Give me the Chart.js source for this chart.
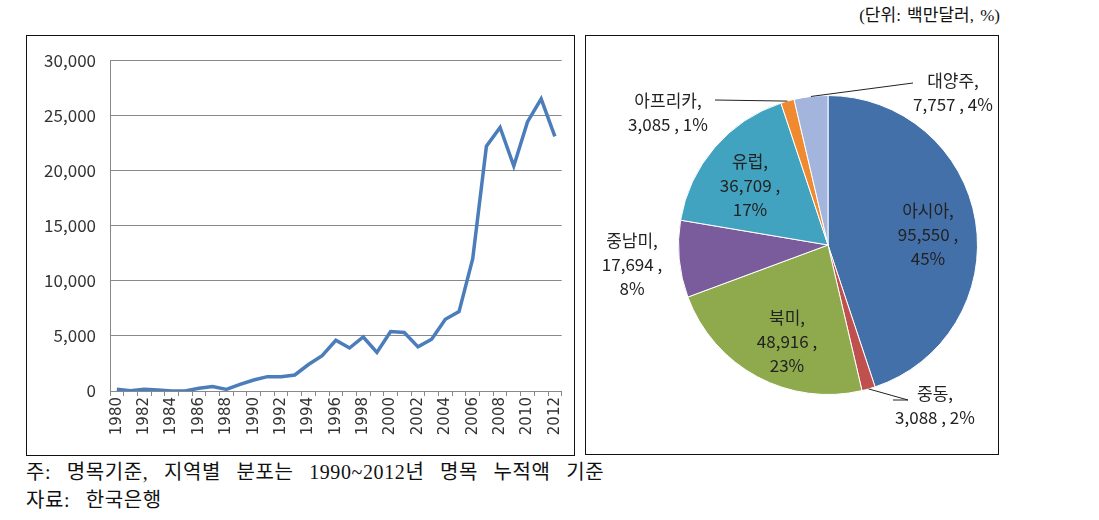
<!DOCTYPE html>
<html>
<head>
<meta charset="utf-8">
<script src="https://cdn.jsdelivr.net/npm/chart.js@4"></script>
<style>
  html, body { margin:0; padding:0; background:#fff; }
  body { width:1099px; height:520px; position:relative; overflow:hidden; font-family:"Liberation Serif","Noto Sans CJK KR",serif; }
  .panel { position:absolute; border:1px solid #111; box-sizing:border-box; background:#fff; }
  #lp { left:26px; top:35px; width:549px; height:421px; }
  #pp { left:585px; top:35px; width:414px; height:420px; }
  canvas { position:absolute; left:0; top:0; }
  .txt { position:absolute; color:#111; white-space:nowrap; line-height:1.4; }
  #unit { right:99px; top:4px; font-size:17px; word-spacing:2px; }
  #note1 { left:26px; top:458px; font-size:20px; word-spacing:10px; letter-spacing:0.6px; }
  #note2 { left:26px; top:486px; font-size:20px; word-spacing:10px; letter-spacing:0.6px; }
</style>
</head>
<body>
<div class="txt" id="unit">(단위: 백만달러, %)</div>
<div class="panel" id="lp"><canvas id="line" width="547" height="419"></canvas></div>
<div class="panel" id="pp"><canvas id="pie" width="412" height="418"></canvas></div>
<div class="txt" id="note1">주: 명목기준, 지역별 분포는 1990~2012년 명목 누적액 기준</div>
<div class="txt" id="note2">자료: 한국은행</div>
<script>
// ---- data ----
const years = ["1980","1981","1982","1983","1984","1985","1986","1987","1988","1989",
  "1990","1991","1992","1993","1994","1995","1996","1997","1998","1999",
  "2000","2001","2002","2003","2004","2005","2006","2007","2008","2009",
  "2010","2011","2012"];
const investment = [150, 30, 150, 100, 0, 0, 250, 400, 150, 600,
  1000, 1300, 1300, 1450, 2400, 3200, 4600, 3900, 4900, 3500,
  5400, 5300, 4000, 4700, 6500, 7200, 12000, 22200, 23900, 20400,
  24400, 26500, 23100];
const yTicks = [0, 5000, 10000, 15000, 20000, 25000, 30000];

const regions = ["아시아", "중동", "북미", "중남미", "유럽", "아프리카", "대양주"];
const regionValues = [95550, 3088, 48916, 17694, 36709, 3085, 7757];
const regionPct = ["45%", "2%", "23%", "8%", "17%", "1%", "4%"];

// ---- styles ----
const FONT = '"Noto Sans CJK KR", "Noto Sans", sans-serif';
const sliceColors = ["#4470AA", "#C0504D", "#8FAA4C", "#7A5C9C", "#41A3C0", "#F08A30", "#A3B5DD"];

new Chart(document.getElementById('line'), {
  type: 'line',
  data: {
    labels: years,
    datasets: [{
      data: investment,
      borderColor: '#4A7DBA',
      borderWidth: 3.5,
      pointRadius: 0,
      tension: 0,
      fill: false
    }]
  },
  options: {
    responsive: false,
    animation: false,
    events: [],
    layout: { padding: { left: 0, right: 10, top: 19, bottom: 0 } },
    plugins: { legend: { display: false }, tooltip: { enabled: false } },
    scales: {
      x: {
        offset: true,
        grid: { display: true, drawOnChartArea: false, drawTicks: true, tickLength: 5, offset: true, color: '#888' },
        border: { display: true, color: '#888', width: 1 },
        ticks: {
          autoSkip: false, maxRotation: 90, minRotation: 90, padding: 1,
          color: '#333', font: { family: '"DejaVu Sans", sans-serif', size: 15 },
          callback: (v, i) => (i % 2 === 0 ? years[i] : '')
        },
        afterFit: s => { s.height = 64; }
      },
      y: {
        min: 0, max: 30000,
        afterBuildTicks: s => { s.ticks = yTicks.map(v => ({ value: v })); },
        grid: { color: '#888', drawTicks: false },
        border: { display: true, color: '#888', width: 1 },
        ticks: {
          padding: 14, color: '#333', font: { family: FONT, size: 17 },
          callback: v => v.toLocaleString('en-US')
        },
        afterFit: s => { s.width = 83; }
      }
    }
  }
});

// label layout: offsets from pie centre (px); leader points relative to centre
const labelLayout = [
  { dx: 100, dy: -10, inline: false },
  { dx: 107, dy: 161, inline: true, leader: [[80, 155], [65, 155]] },
  { dx: -41, dy: 97, inline: false },
  { dx: -196, dy: 20, inline: false },
  { dx: -78, dy: -59, inline: false },
  { dx: -160, dy: -132, inline: true, leader: [[-113, -145]] },
  { dx: 125, dy: -152, inline: true, leader: [[85, -162]] }
];

const pieLabels = {
  id: 'pieLabels',
  afterDatasetsDraw(chart) {
    const ctx = chart.ctx;
    const arcs = chart.getDatasetMeta(0).data;
    ctx.save();
    ctx.font = '17px ' + FONT;
    ctx.fillStyle = '#222';
    ctx.textAlign = 'center';
    ctx.textBaseline = 'middle';
    arcs.forEach((arc, i) => {
      const L = labelLayout[i];
      const cx = arc.x, cy = arc.y;
      const valTxt = regionValues[i].toLocaleString('en-US') + ' ,';
      const lines = L.inline
        ? [regions[i] + ',', valTxt + ' ' + regionPct[i]]
        : [regions[i] + ',', valTxt, regionPct[i]];
      const lh = 24;
      const x = cx + L.dx, y = cy + L.dy;
      const y0 = y - (lines.length - 1) * lh / 2;
      lines.forEach((t, k) => ctx.fillText(t, x, y0 + k * lh));
      if (L.leader) {
        const mid = (arc.startAngle + arc.endAngle) / 2;
        const ex = cx + Math.cos(mid) * arc.outerRadius;
        const ey = cy + Math.sin(mid) * arc.outerRadius;
        ctx.beginPath();
        ctx.strokeStyle = '#222';
        ctx.lineWidth = 1;
        ctx.moveTo(ex, ey);
        L.leader.forEach(p => ctx.lineTo(cx + p[0], cy + p[1]));
        ctx.stroke();
      }
    });
    ctx.restore();
  }
};

new Chart(document.getElementById('pie'), {
  type: 'pie',
  data: {
    labels: regions,
    datasets: [{
      data: regionValues,
      backgroundColor: sliceColors,
      borderColor: '#fff',
      borderWidth: 1
    }]
  },
  options: {
    responsive: false,
    animation: false,
    events: [],
    layout: { padding: { left: 92, right: 20, top: 59, bottom: 59 } },
    plugins: { legend: { display: false }, tooltip: { enabled: false } }
  },
  plugins: [pieLabels]
});
</script>
</body>
</html>
